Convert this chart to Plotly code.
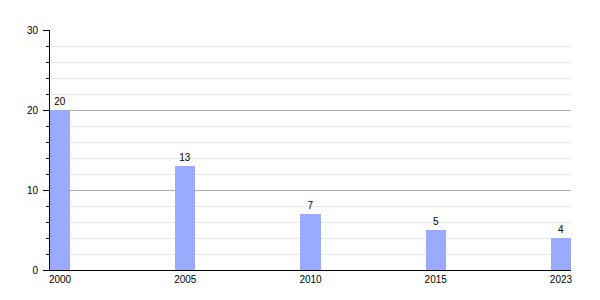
import plotly.graph_objects as go

years = ["2000", "2005", "2010", "2015", "2023"]
values = [20, 13, 7, 5, 4]
positions = list(range(len(years)))

fig = go.Figure()
fig.add_trace(go.Bar(
    x=positions, y=values, width=0.16,
    marker=dict(color="#99aaff", line=dict(width=0)),
    text=[str(v) for v in values], textposition="outside",
    textfont=dict(family="Liberation Sans, Arial", size=10, color="#000"),
    cliponaxis=False,
))
fig.update_layout(
    width=600, height=300,
    margin=dict(l=50, r=29, t=30, b=30),
    paper_bgcolor="white", plot_bgcolor="white",
    showlegend=False,
    font=dict(family="Liberation Sans, Arial", size=10, color="#000"),
    bargap=0,
)
fig.update_xaxes(
    range=[-0.08, 4.08], tickvals=positions, ticktext=years,
    showgrid=False, zeroline=False, showline=True, linecolor="#000", linewidth=1,
    ticks="", tickfont=dict(size=10, color="#000"),
)
fig.update_yaxes(
    range=[0, 30], dtick=10, showgrid=True, gridcolor="#b0b0b0", gridwidth=1,
    zeroline=False, showline=True, linecolor="#000", linewidth=1,
    ticks="outside", ticklen=6, tickcolor="#000", tickfont=dict(size=10, color="#000"),
    ticklabelstandoff=3,
    minor=dict(dtick=2, ticks="outside", ticklen=3, tickcolor="#000",
               showgrid=True, gridcolor="#e6e6e6", gridwidth=1),
)
fig.write_html("out.html")
